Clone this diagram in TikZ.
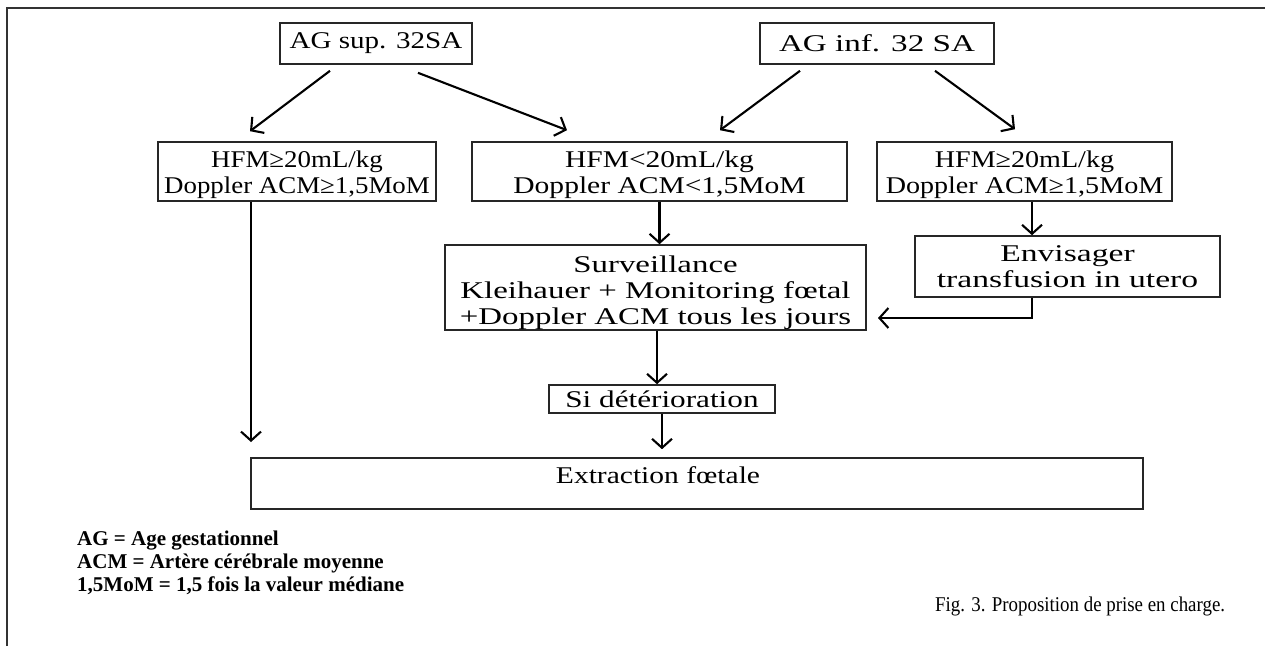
\documentclass[tikz,border=0pt]{standalone}
\usepackage{fontspec}
\usetikzlibrary{arrows.meta}
\setmainfont{Liberation Serif}
\newcommand{\bx}[1]{\fontsize{24}{26}\selectfont\addfontfeatures{FakeStretch=#1}}
\newcommand{\topstrut}[1]{\rule{0pt}{#1}}
\tikzset{
  box/.style={draw=black!85, line width=1.6pt, inner sep=0pt, align=center},
  txt/.style={inner sep=0pt, align=center},
  arr/.style={line width=2.1pt, -{Straight Barb[length=9pt,width=20pt,line width=2.1pt]}},
  legend/.style={inner sep=0pt, anchor=base west,
    font=\bfseries\fontsize{21}{23}\selectfont}
}
\begin{document}
\begin{tikzpicture}[x=1pt,y=-1pt]
\useasboundingbox (0,0) rectangle (1265,646);
\draw[line width=2pt, black!80] (7,646) -- (7,8) -- (1265,8);

\node[box, font=\bx{1.21}, minimum width=192pt, minimum height=41pt] (A1) at (376,43.5) {AG sup. 32SA};
\node[box, font=\bx{1.38}, minimum width=234pt, minimum height=41pt] (A2) at (877,43.5) {AG inf. 32 SA};
\node[box, font=\bx{1.12}, minimum width=278pt, minimum height=59pt] (B1) at (297,171.5) {\topstrut{22.4pt}HFM≥20mL/kg\\Doppler ACM≥1,5MoM};
\node[box, font=\bx{1.23}, minimum width=375pt, minimum height=59pt] (B2) at (659.5,171.5) {\topstrut{22.4pt}HFM<20mL/kg\\Doppler ACM<1,5MoM};
\node[box, font=\bx{1.17}, minimum width=295pt, minimum height=59pt] (B3) at (1024.5,171.5) {\topstrut{22.4pt}HFM≥20mL/kg\\Doppler ACM≥1,5MoM};
\node[box, font=\bx{1.37}, minimum width=421pt, minimum height=85pt] (C1) at (655.5,287.5) {\topstrut{26.5pt}Surveillance\\Kleihauer + Monitoring fœtal\\+Doppler ACM tous les jours};
\node[box, font=\bx{1.4}, minimum width=305pt, minimum height=61pt] (C2) at (1067.5,266.5) {Envisager\\transfusion in utero};
\node[box, font=\bx{1.3}, minimum width=226pt, minimum height=28pt] (D) at (662,399) {Si détérioration};
\node[box, minimum width=892pt, minimum height=51pt] (E) at (697,483.5) {};
\node[txt, font=\bx{1.23}] (Et) at (658,475) {Extraction fœtale};

\coordinate (c2end) at (878,318);
\coordinate (b1end) at (251,442);

\draw[arr] ([xshift=-46pt,yshift=-6pt]A1.south) -- ([xshift=-47pt,yshift=10pt]B1.north);
\draw[arr] ([xshift=42pt,yshift=-8pt]A1.south) -- ([xshift=-92.5pt,yshift=11pt]B2.north);
\draw[arr] ([xshift=-77pt,yshift=-6pt]A2.south) -- ([xshift=60.5pt,yshift=11pt]B2.north);
\draw[arr] ([xshift=58pt,yshift=-6pt]A2.south) -- ([xshift=-9.5pt,yshift=12pt]B3.north);
\draw[arr] (B2.south) -- (B2.south |- C1.north);
\draw[arr] ([xshift=7.5pt]B3.south) -- ([xshift=7.5pt]B3.south |- C2.north);
\draw[arr] ([xshift=-35.5pt]C2.south) |- (c2end);
\draw[arr] (B1.south -| b1end) -- (b1end);
\draw[arr] ([xshift=1.5pt]C1.south) -- ([xshift=1.5pt]C1.south |- D.north);
\draw[arr] (D.south) -- ([yshift=8pt]D.south |- E.north);

\node[legend] (L1) at (77,545) {AG = Age gestationnel};
\node[legend] (L2) at (77,568) {ACM = Artère cérébrale moyenne};
\node[legend] (L3) at (77,591) {1,5MoM = 1,5 fois la valeur médiane};
\node[inner sep=0pt, anchor=base west, font=\fontsize{21}{23}\selectfont\addfontfeatures{FakeStretch=0.9}] (cap) at (935,611) {Fig. 3. Proposition de prise en charge.};
\end{tikzpicture}
\end{document}
